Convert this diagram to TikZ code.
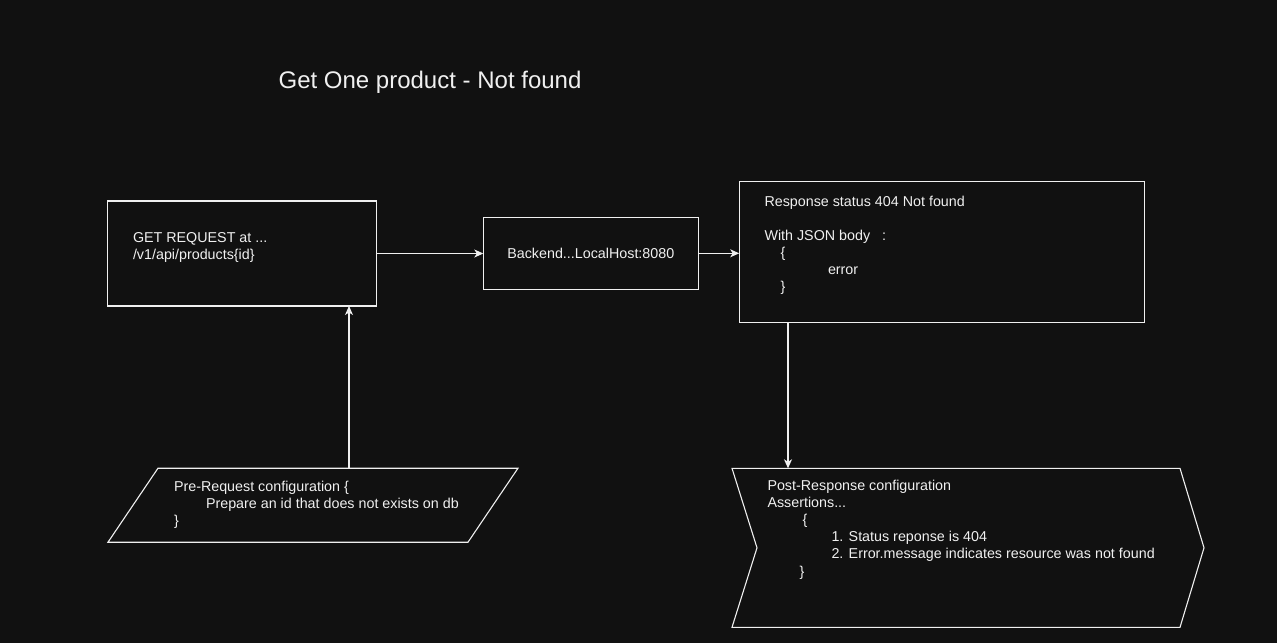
\documentclass[tikz,border=0pt]{standalone}
\usepackage{fontspec}
\setmainfont{Liberation Sans}
\usetikzlibrary{arrows.meta,calc}
\definecolor{bgc}{HTML}{111111}
\definecolor{fg}{HTML}{F0F0F0}
\begin{document}
\begin{tikzpicture}[x=1pt,y=-1pt,
  box/.style={draw=fg, line width=1.1pt, fill=bgc, inner sep=0pt, outer sep=0pt},
  ghost/.style={inner sep=0pt, outer sep=0pt},
  outline/.style={draw=fg, line width=1.1pt, fill=bgc, line join=miter},
  txt/.style={text=fg, inner sep=0pt, outer sep=0pt, font=\fontsize{14.3pt}{17.1pt}\selectfont},
  arr/.style={draw=fg, line width=1.1pt, -{Stealth[length=9pt,width=8pt,inset=2.5pt]}}
]
\fill[bgc] (0,0) rectangle (1277,643);
\useasboundingbox (0,0) rectangle (1277,643);

% title
\node[txt, font=\fontsize{24pt}{28pt}\selectfont, anchor=base] (title) at (430,88.5) {Get One product - Not found};

% boxes
\node[box, minimum width=269pt, minimum height=105pt] (req) at (242.3,253.5) {};
\node[box, minimum width=215pt, minimum height=72pt, text=fg, font=\fontsize{14.3pt}{17.1pt}\selectfont] (be) at (590.8,253.3) {Backend...LocalHost:8080};
\node[box, minimum width=405pt, minimum height=141pt] (resp) at (941.7,252) {};
\node[ghost, minimum width=410pt, minimum height=74pt] (pre) at (313,505.2) {};
\node[ghost, minimum width=472pt, minimum height=159pt] (post) at (968,547.8) {};

% shapes drawn from ghost nodes
\draw[outline] ([xshift=50pt]pre.north west) -- (pre.north east) -- ([xshift=-50pt]pre.south east) -- (pre.south west) -- cycle;
\draw[outline] (post.north west) -- ([xshift=-24pt]post.north east) -- (post.east) -- ([xshift=-24pt]post.south east) -- (post.south west) -- ([xshift=25pt]post.west) -- cycle;

% texts
\node[txt, anchor=base west] (reqtxt) at (133,242) {\begin{tabular}[t]{@{}l@{}}GET REQUEST at ...\\/v1/api/products\{id\}\end{tabular}};
\node[txt, anchor=base west] (resptxt) at (764.5,206) {\begin{tabular}[t]{@{}l@{}}Response status 404 Not found\\ \\With JSON body\hspace{12pt}:\\\hspace*{16pt}\{\\\hspace*{63.5pt}error\\\hspace*{16pt}\}\end{tabular}};
\node[txt, anchor=base west] (pretxt) at (174,491) {\begin{tabular}[t]{@{}l@{}}Pre-Request configuration \{\\\hspace*{32pt}Prepare an id that does not exists on db\\\}\end{tabular}};
\node[txt, anchor=base west] (posttxt) at (767.5,490.5) {\begin{tabular}[t]{@{}l@{}}Post-Response configuration\\Assertions...\\\hspace*{35pt}\{\\\hspace*{64pt}1. Status reponse is 404\\\hspace*{64pt}2. Error.message indicates resource was not found\\\hspace*{32pt}\}\end{tabular}};

% connectors
\draw[arr] (req.east) -- (req.east -| be.west);
\draw[arr] (be.east) -- (be.east -| resp.west);
\draw[arr] ([xshift=241pt]pre.north west) -- ([xshift=241pt]pre.north west |- req.south);
\draw[arr] ([xshift=56pt]post.north west |- resp.south) -- ([xshift=56pt]post.north west);
\end{tikzpicture}
\end{document}
